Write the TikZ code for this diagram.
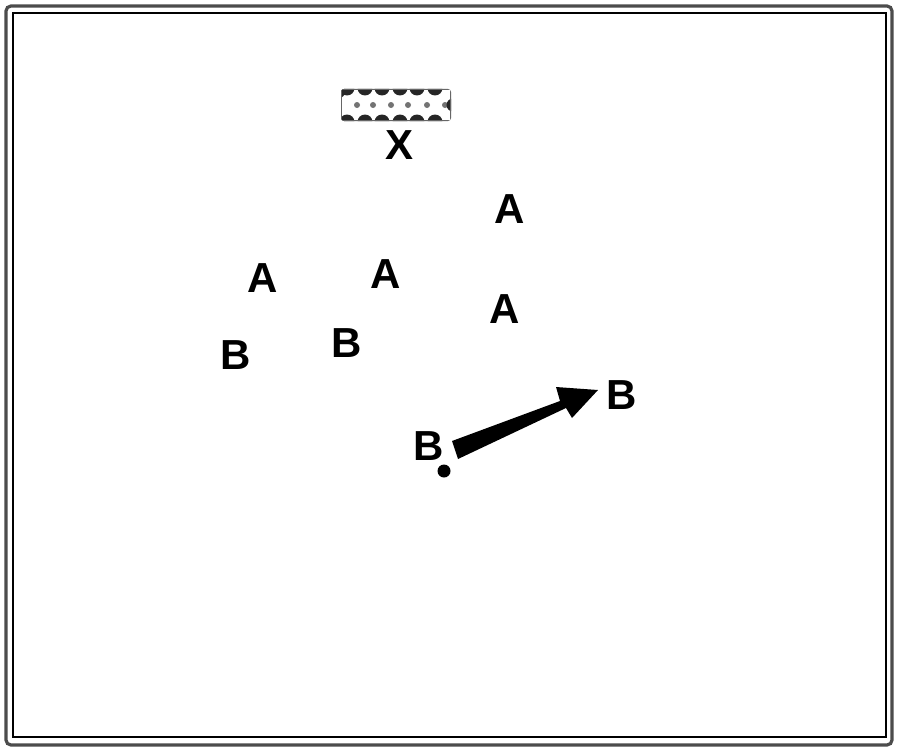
\documentclass[tikz,border=0pt]{standalone}
\usepackage{fontspec}
\setmainfont{Liberation Sans}
\begin{document}
\begin{tikzpicture}[x=1pt,y=-1pt,
  lbl/.style={inner sep=0pt,font=\fontsize{42}{42}\selectfont\bfseries},
  frameout/.style={draw=black!70,line width=3.2pt,rounded corners=5pt},
  framein/.style={draw=black,line width=1.1pt}]
\useasboundingbox (0,0) rectangle (900,752);
\fill[white] (0,0) rectangle (900,752);
% frame
\draw[frameout] (6,6) rectangle (892,745);
\draw[framein] (13,13) rectangle (886,737);
% stippled bar
\begin{scope}
\clip[rounded corners=3pt] (341,89) rectangle (451,121);
\fill[white] (341,89) rectangle (451,121);
\foreach \x in {347,365,382,400,417,435}{
  \fill[black!85] (\x,88) circle (7.5);
  \fill[black!85] (\x,122) circle (7.5);
}
\foreach \x in {357,373,391,408,427,445}
  \fill[black!55] (\x,105) circle (3);
\fill[black!85] (453,105) circle (6.5);
\fill[black!85] (339,92) circle (6);
\draw[black!60,line width=1.5pt] (341,89) rectangle (451,121);
\end{scope}
\node[lbl] (x) at (400,145) {X};
% A labels
\node[lbl] (a1) at (510,209) {A};
\node[lbl] (a2) at (263,278) {A};
\node[lbl] (a3) at (386,274) {A};
\node[lbl] (a4) at (505,309) {A};
% B labels
\node[lbl] (b1) at (236,355) {B};
\node[lbl] (b2) at (347,343) {B};
\node[lbl] (b3) at (622,395) {B};
\node[lbl] (b4) at (429,446) {B};
% dot
\fill (444,471) circle (6.5);
% wedge arrow
\fill (452,441) -- (560,401) -- (556,387) -- (598,390) -- (572,418) -- (566,408) -- (458,459) -- cycle;
\end{tikzpicture}
\end{document}
